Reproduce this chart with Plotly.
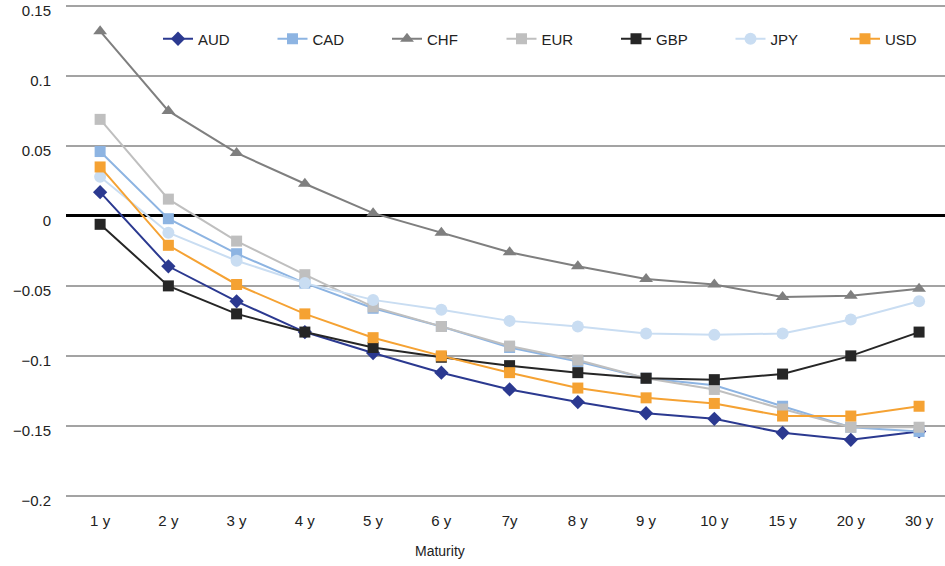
import plotly.graph_objects as go

# Maturity buckets on the x axis
maturities = ["1 y", "2 y", "3 y", "4 y", "5 y", "6 y", "7y", "8 y", "9 y", "10 y", "15 y", "20 y", "30 y"]

# Curve values per currency
aud = [0.017, -0.036, -0.061, -0.083, -0.098, -0.112, -0.124, -0.133, -0.141, -0.145, -0.155, -0.160, -0.154]
cad = [0.046, -0.002, -0.027, -0.048, -0.066, -0.079, -0.094, -0.104, -0.116, -0.121, -0.136, -0.151, -0.154]
chf = [0.132, 0.075, 0.045, 0.023, 0.002, -0.012, -0.026, -0.036, -0.045, -0.049, -0.058, -0.057, -0.052]
eur = [0.069, 0.012, -0.018, -0.042, -0.065, -0.079, -0.093, -0.103, -0.116, -0.124, -0.138, -0.151, -0.151]
gbp = [-0.006, -0.050, -0.070, -0.083, -0.094, -0.101, -0.107, -0.112, -0.116, -0.117, -0.113, -0.100, -0.083]
jpy = [0.028, -0.012, -0.032, -0.048, -0.060, -0.067, -0.075, -0.079, -0.084, -0.085, -0.084, -0.074, -0.061]
usd = [0.035, -0.021, -0.049, -0.070, -0.087, -0.100, -0.112, -0.123, -0.130, -0.134, -0.143, -0.143, -0.136]

# name, values, colour, marker symbol, marker size, legend id
series = [
    ("AUD", aud, "#2B3990", "diamond", 11, "legend"),
    ("CAD", cad, "#8DB4E2", "square", 11, "legend"),
    ("CHF", chf, "#7F7F7F", "triangle-up", 12, "legend"),
    ("EUR", eur, "#BFBFBF", "square", 11, "legend"),
    ("GBP", gbp, "#262626", "square", 11, "legend"),
    ("JPY", jpy, "#C9DDF2", "circle", 12, "legend"),
    ("USD", usd, "#F5A233", "square", 11, "legend2"),
]

fig = go.Figure()
for name, vals, color, symbol, size, leg in series:
    fig.add_trace(go.Scatter(
        x=maturities, y=vals, name=name, mode="lines+markers",
        line=dict(color=color, width=2),
        marker=dict(symbol=symbol, size=size, color=color),
        legend=leg,
    ))

# y scale: 1400 px per unit, zero line 216 px from the top
y_top, y_bottom = 0.1543, -0.203
plot_left, plot_w = 66, 879
plot_h = round((y_top - y_bottom) * 1400)

# legend row: fixed pitch between entries, single line across the top
pitch = 114.5
left_px = 158
legend_style = dict(
    orientation="h", xref="paper", yref="paper",
    y=1 - 39 / plot_h, xanchor="left", yanchor="middle",
    entrywidthmode="pixels",
    font=dict(size=15, color="#222222"),
    bgcolor="rgba(0,0,0,0)", tracegroupgap=0,
)

fig.update_layout(
    width=945, height=566,
    margin=dict(l=plot_left, r=0, t=0, b=566 - plot_h),
    paper_bgcolor="white", plot_bgcolor="white",
    font=dict(family="Liberation Sans, Arial, sans-serif", size=15, color="#222222"),
    showlegend=True,
    legend=dict(x=(left_px - plot_left) / plot_w, entrywidth=pitch - 45, **legend_style),
    legend2=dict(x=(left_px + 6 * pitch - plot_left) / plot_w, entrywidth=40, **legend_style),
    xaxis=dict(
        type="category", range=[-0.5, 12.38],
        showgrid=False, showline=False, zeroline=False, ticks="",
        tickfont=dict(family="Liberation Sans Narrow, Liberation Sans, Arial", size=15, color="#222222"),
        ticklabelstandoff=10,
    ),
    yaxis=dict(
        range=[y_bottom, y_top], dtick=0.05, tick0=0,
        showgrid=True, gridcolor="#A3A3A3", gridwidth=2,
        zeroline=True, zerolinecolor="#000000", zerolinewidth=2.5,
        showline=False, ticks="",
        tickfont=dict(size=15, color="#222222"),
        ticklabelstandoff=14, ticklabelshift=5, ticklabeloverflow="allow",
    ),
    annotations=[dict(
        text="Maturity", xref="paper", yref="paper",
        x=(440 - plot_left) / plot_w, y=-(551 - plot_h) / plot_h, xanchor="center", yanchor="middle",
        showarrow=False,
        font=dict(family="Liberation Sans Narrow, Liberation Sans, Arial", size=14, color="#222222"),
    )],
)

fig.write_html("out.html")
